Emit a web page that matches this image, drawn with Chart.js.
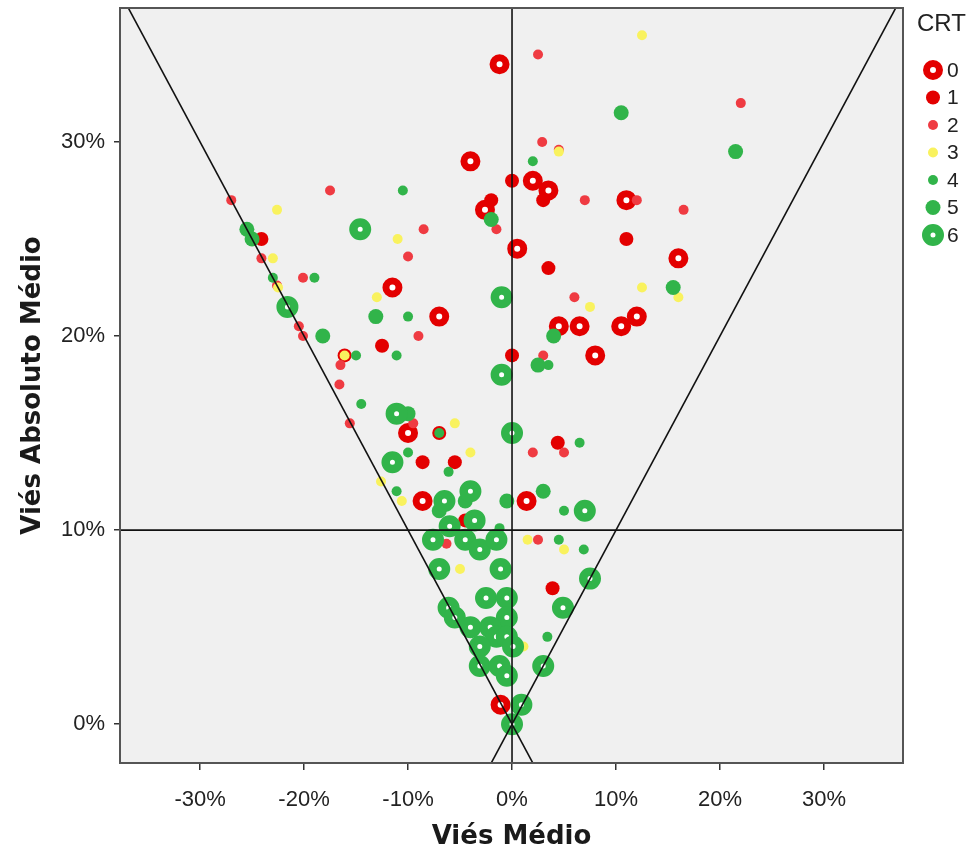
<!DOCTYPE html>
<html>
<head>
<meta charset="utf-8">
<title>CRT</title>
<script src="https://cdn.jsdelivr.net/npm/chart.js@4.4.0/dist/chart.umd.min.js"></script>
<style>
  html, body { margin: 0; padding: 0; background: #fff; }
  #wrap { width: 971px; height: 857px; }
</style>
</head>
<body>
<div id="wrap"><canvas id="myChart" width="971" height="857"></canvas></div>
<script>
// Points per CRT group, [Viés Médio %, Viés Absoluto Médio %]
const crt0 = [[-1.2,34.0],[-4.0,29.0],[2.0,28.0],[3.5,27.5],[11.0,27.0],[-2.6,26.5],[0.5,24.5],[16.0,24.0],[-11.5,22.5],[-7.0,21.0],[4.5,20.5],[6.5,20.5],[10.5,20.5],[12.0,21.0],[8.0,19.0],[-10.0,15.0],[-8.6,11.5],[1.4,11.5],[-1.1,1.0]];
const crt1 = [[0.0,28.0],[-2.0,27.0],[3.0,27.0],[11.0,25.0],[-24.1,25.0],[3.5,23.5],[-12.5,19.5],[0.0,19.0],[-7.0,15.0],[-8.6,13.5],[-5.5,13.5],[4.4,14.5],[3.9,7.0],[-4.5,10.5],[-16.1,19.0]];
const crt2 = [[2.5,34.5],[22.0,32.0],[2.9,30.0],[-17.5,27.5],[-27.0,27.0],[7.0,27.0],[12.0,27.0],[16.5,26.5],[-8.5,25.5],[-1.5,25.5],[-10.0,24.1],[-24.1,24.0],[-20.1,23.0],[6.0,22.0],[-20.5,20.5],[-20.1,20.0],[-9.0,20.0],[3.0,19.0],[-16.5,18.5],[-16.6,17.5],[-15.6,15.5],[-9.5,15.5],[2.0,14.0],[5.0,14.0],[2.5,9.5],[-6.3,9.3],[4.5,29.6],[-22.6,22.6],[0.0,15.0]];
const crt3 = [[12.5,35.5],[4.5,29.5],[-22.6,26.5],[-11.0,25.0],[-23.0,24.0],[-22.5,22.5],[-13.0,22.0],[7.5,21.5],[12.5,22.5],[16.0,22.0],[-16.1,19.0],[-5.5,15.5],[-4.0,14.0],[-12.6,12.5],[-10.6,11.5],[-5.0,8.0],[1.5,9.5],[5.0,9.0],[1.1,4.0],[-1.1,3.0]];
const crt4 = [[2.0,29.0],[-10.5,27.5],[-23.0,23.0],[-19.0,23.0],[-10.0,21.0],[-11.1,19.0],[-15.0,19.0],[3.5,18.5],[-14.5,16.5],[-7.0,15.0],[-10.0,14.0],[6.5,14.5],[-6.1,13.0],[-11.1,12.0],[5.0,11.0],[-1.2,10.1],[4.5,9.5],[6.9,9.0],[3.4,4.5]];
const crt5 = [[10.5,31.5],[21.5,29.5],[15.5,22.5],[-2.0,26.0],[-25.5,25.5],[-25.0,25.0],[-21.8,21.6],[-13.1,21.0],[-18.2,20.0],[4.0,20.0],[2.5,18.5],[-10.0,16.0],[-0.5,11.5],[-4.5,11.5],[3.0,12.0],[-7.0,11.0]];
const crt6 = [[-14.6,25.5],[-1.0,22.0],[-21.6,21.5],[-1.0,18.0],[-11.1,16.0],[0.0,15.0],[-11.5,13.5],[-4.0,12.0],[-6.5,11.5],[7.0,11.0],[-6.0,10.2],[-3.6,10.5],[-7.6,9.5],[-4.5,9.5],[-3.1,9.0],[-1.5,9.5],[-7.0,8.0],[-1.1,8.0],[-2.5,6.5],[-0.5,6.5],[-6.1,6.0],[-5.5,5.5],[-0.5,5.5],[-4.0,5.0],[-2.1,5.0],[-1.5,4.5],[-0.5,4.5],[-3.1,4.0],[0.1,4.0],[-3.1,3.0],[-1.2,3.0],[-0.5,2.5],[3.0,3.0],[4.9,6.0],[7.5,7.5],[0.9,1.0],[0.0,0.0]];

const crtLabels = ['0', '1', '2', '3', '4', '5', '6'];
const xTicks = [-30, -20, -10, 0, 10, 20, 30];
const yTicks = [0, 10, 20, 30];
const refX = 0;   // vertical reference line
const refY = 10;  // horizontal reference line

const groups = [crt0, crt1, crt2, crt3, crt4, crt5, crt6];

// marker look per group (rings for 0 and 6)
const RED = '#e30000', LIGHTRED = '#ef3b42', YELLOW = '#f9f25e', GREEN = '#31b44a';
const styles = [
    { fill: '#ffffff', stroke: RED, radius: 6.5, border: 7 },
    { fill: RED, stroke: RED, radius: 7, border: 0 },
    { fill: LIGHTRED, stroke: LIGHTRED, radius: 5, border: 0 },
    { fill: YELLOW, stroke: YELLOW, radius: 5, border: 0 },
    { fill: GREEN, stroke: GREEN, radius: 5, border: 0 },
    { fill: GREEN, stroke: GREEN, radius: 7.5, border: 0 },
    { fill: '#ffffff', stroke: GREEN, radius: 6.75, border: 8.5 },
];

const datasets = groups.map((g, i) => ({
    label: crtLabels[i],
    data: g.map(p => ({ x: p[0], y: p[1] })),
    backgroundColor: styles[i].fill,
    borderColor: styles[i].stroke,
    borderWidth: styles[i].border,
    pointRadius: styles[i].radius,
    pointHoverRadius: styles[i].radius,
    pointStyle: 'circle',
    order: 6 - i, // higher CRT drawn on top
}));

const tickFont = { family: 'Liberation Sans, Arial, sans-serif', size: 22 };

// plot background, reference lines, frame, titles and legend
const decor = {
    id: 'decor',
    beforeDatasetsDraw(chart) {
        const { ctx, chartArea: a } = chart;
        ctx.save();
        ctx.fillStyle = '#f0f0f0';
        ctx.fillRect(a.left, a.top, a.right - a.left, a.bottom - a.top);
        ctx.restore();
    },
    afterDatasetsDraw(chart) {
        const { ctx, chartArea: a, scales } = chart;
        const xs = scales.x, ys = scales.y;
        ctx.save();
        ctx.beginPath();
        ctx.rect(a.left, a.top, a.right - a.left, a.bottom - a.top);
        ctx.clip();
        ctx.strokeStyle = '#111';
        ctx.lineWidth = 1.6;
        const seg = (x1, y1, x2, y2) => {
            ctx.beginPath();
            ctx.moveTo(xs.getPixelForValue(x1), ys.getPixelForValue(y1));
            ctx.lineTo(xs.getPixelForValue(x2), ys.getPixelForValue(y2));
            ctx.stroke();
        };
        seg(refX, ys.min, refX, ys.max);
        seg(xs.min, refY, xs.max, refY);
        // y = |x| guide lines
        seg(-45, 45, 5, -5);
        seg(45, 45, -5, -5);
        ctx.restore();

        // frame
        ctx.save();
        ctx.strokeStyle = '#555';
        ctx.lineWidth = 2;
        ctx.strokeRect(a.left, a.top, a.right - a.left, a.bottom - a.top);
        ctx.restore();
    },
    afterDraw(chart) {
        const { ctx, chartArea: a } = chart;
        ctx.save();
        ctx.fillStyle = '#1a1a1a';
        ctx.font = 'bold 26px "DejaVu Sans", Verdana, sans-serif';
        ctx.textAlign = 'center';
        ctx.textBaseline = 'middle';
        ctx.fillText('Viés Médio', (a.left + a.right) / 2, 837);
        ctx.translate(33, (a.top + a.bottom) / 2);
        ctx.rotate(-Math.PI / 2);
        ctx.fillText('Viés Absoluto Médio', 0, 0);
        ctx.restore();

        // legend
        ctx.save();
        ctx.fillStyle = '#222';
        ctx.font = '24px "Liberation Sans", Arial, sans-serif';
        ctx.textAlign = 'left';
        ctx.textBaseline = 'middle';
        ctx.fillText('CRT', 917, 24);
        ctx.font = '21px "Liberation Sans", Arial, sans-serif';
        crtLabels.forEach((lab, i) => {
            const s = styles[i];
            const cx = 933, cy = 70 + i * 27.5;
            ctx.beginPath();
            ctx.arc(cx, cy, s.radius, 0, Math.PI * 2);
            ctx.fillStyle = s.fill;
            ctx.fill();
            if (s.border) {
                ctx.lineWidth = s.border;
                ctx.strokeStyle = s.stroke;
                ctx.stroke();
            }
            ctx.fillStyle = '#222';
            ctx.fillText(lab, 947, cy + 1);
        });
        ctx.restore();
    }
};

const ctx = document.getElementById('myChart').getContext('2d');
const myChart = new Chart(ctx, {
    type: 'scatter',
    data: { datasets: datasets },
    options: {
        responsive: false,
        animation: false,
        events: [],
        layout: { autoPadding: false, padding: { top: 8, right: 68, left: 0, bottom: 0 } },
        plugins: {
            legend: { display: false },
            tooltip: { enabled: false },
        },
        scales: {
            x: {
                type: 'linear',
                min: -37.7,
                max: 37.6,
                afterBuildTicks: s => { s.ticks = xTicks.map(v => ({ value: v })); },
                afterFit: s => { s.height = 94; s.paddingLeft = 0; s.paddingRight = 0; },
                ticks: { callback: v => v + '%', font: tickFont, color: '#222', padding: 17, maxRotation: 0 },
                grid: { drawOnChartArea: false, drawTicks: true, tickLength: 7, color: '#333', lineWidth: 1.5 },
                border: { display: false },
            },
            y: {
                type: 'linear',
                min: -2.0,
                max: 36.9,
                afterBuildTicks: s => { s.ticks = yTicks.map(v => ({ value: v })); },
                afterFit: s => { s.width = 120; s.paddingTop = 0; s.paddingBottom = 0; },
                ticks: { callback: v => v + '%', font: tickFont, color: '#222', padding: 9 },
                grid: { drawOnChartArea: false, drawTicks: true, tickLength: 6, color: '#333', lineWidth: 1.5 },
                border: { display: false },
            },
        },
    },
    plugins: [decor],
});
</script>
</body>
</html>
